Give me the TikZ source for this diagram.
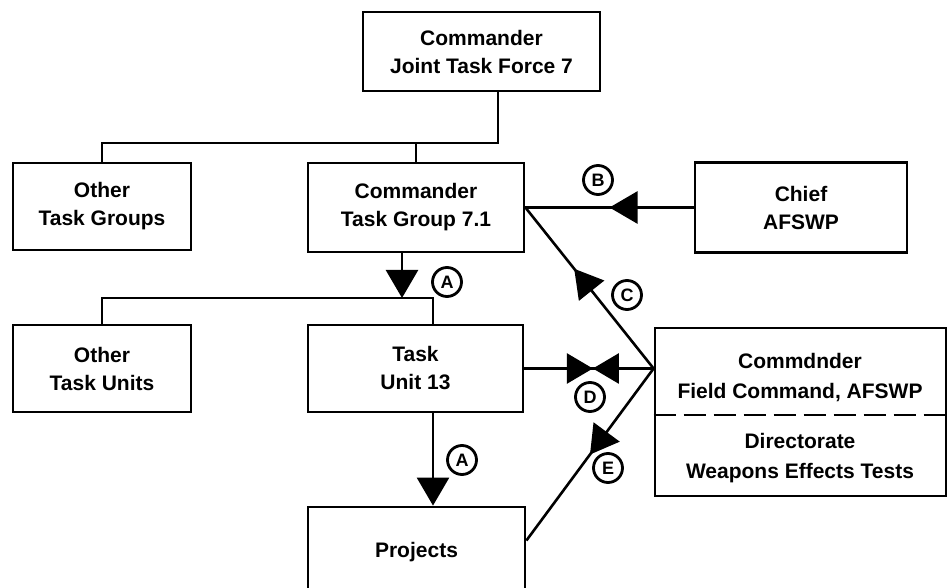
\documentclass[tikz,border=0pt]{standalone}
\usepackage{fontspec}
\setmainfont{Liberation Sans}
\usetikzlibrary{arrows.meta,decorations.markings,calc}
\begin{document}
\begin{tikzpicture}[x=0.5pt,y=-0.5pt,
  box/.style={draw, rectangle, line width=1.4pt, align=center, inner sep=2pt,
    font=\bfseries\fontsize{10.5}{14}\selectfont},
  plain/.style={align=center, inner sep=0pt, font=\bfseries\fontsize{10.5}{15}\selectfont},
  link/.style={line width=1.3pt},
  tip/.style={-{Triangle[length=14pt,width=16pt]}},
  tag/.style={draw, circle, line width=1.4pt, inner sep=0pt, minimum size=14.5pt,
    font=\bfseries\fontsize{9}{9}\selectfont},
  midtip/.style={postaction={decorate}, decoration={markings,
    mark=at position #1 with {\arrow{Triangle[length=14pt,width=16pt]}}}},
  bowtie/.style={postaction={decorate}, decoration={markings,
    mark=at position #1 with {\arrow{Triangle[length=13pt,width=15pt]}},
    mark=at position #1 with {\arrowreversed{Triangle[length=13pt,width=15pt]}}}}]
\useasboundingbox (0,0) rectangle (949,588);

\node[box, minimum width=118.5pt, minimum height=39.5pt] (jtf) at (481.5,51.5) {Commander\\Joint Task Force 7};
\node[box, minimum width=89pt, minimum height=43.5pt] (otg) at (102,206.5) {Other\\Task Groups};
\node[box, minimum width=108pt, minimum height=44.5pt] (tg) at (416,207.5) {Commander\\Task Group 7.1};
\node[box, minimum width=106pt, minimum height=45pt] (chief) at (801,207.5) {Chief\\AFSWP};
\node[box, minimum width=89pt, minimum height=43.5pt] (otu) at (102,368.5) {Other\\Task Units};
\node[box, minimum width=107.5pt, minimum height=43.5pt] (tu) at (415.5,368.5) {Task\\Unit 13};
\node[box, minimum width=145.5pt, minimum height=84pt] (fc) at (800.5,412) {};
\node[plain] (fcup) at (800,378) {Commdnder\\Field Command, AFSWP};
\node[plain] (fcdown) at (800,458) {Directorate\\Weapons Effects Tests};
\node[box, minimum width=108.5pt, minimum height=45.5pt] (proj) at (416.5,552.5) {Projects};

% split of the field command box
\coordinate (fcsplit) at (700,415);
\draw[link, dash pattern=on 11pt off 4pt] (fc.west |- fcsplit) -- (fc.east |- fcsplit);

% chain of command
\coordinate (gbar) at (498,143);
\draw[link] (jtf.south -| gbar) -- (gbar) -| (otg.north);
\draw[link] (tg.north) -- (tg.north |- gbar);
\coordinate (ubar) at (433,298);
\draw[link] (otu.north) |- (ubar) -- (ubar |- tu.north);
\draw[link, tip] ($(tg.south)+(-14,0)$) coordinate (tgout) -- (tgout |- ubar);
\draw[link, tip] (tu.south -| ubar) -- (proj.north -| ubar);

% AFSWP lines
\coordinate (fcin) at (fc.west |- tu.east);
\draw[link, midtip=0.5] (chief.west) -- (tg.east);
\draw[link, midtip=0.62] (fcin) -- (tg.east);
\draw[link, bowtie=0.47] (fcin) -- (tu.east);
\draw[link, midtip=0.5] (fcin) -- ($(proj.east)+(0,-12)$);

\node[tag] (taga) at (447,282) {A};
\node[tag] (tagaa) at (462,460) {A};
\node[tag] (tagb) at (598,180) {B};
\node[tag] (tagc) at (627,295) {C};
\node[tag] (tagd) at (590,397) {D};
\node[tag] (tage) at (608,468) {E};
\end{tikzpicture}
\end{document}
